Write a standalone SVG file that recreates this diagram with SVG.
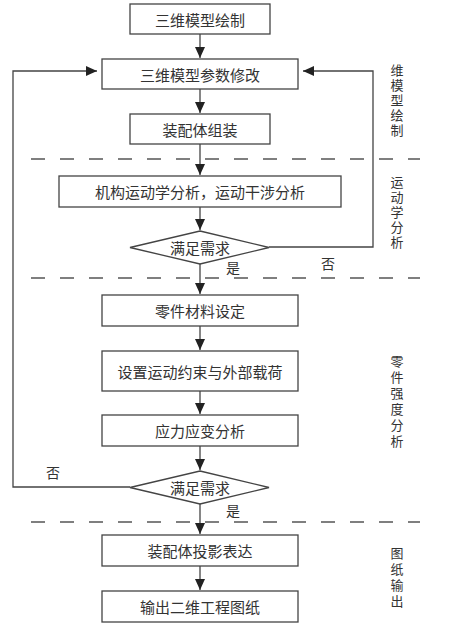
<svg xmlns="http://www.w3.org/2000/svg" width="450" height="631" viewBox="0 0 450 631">
<style>
.box{fill:#fff;stroke:#444;stroke-width:1.3}
.t{font-family:"Noto Sans CJK SC","Liberation Serif",serif;font-size:15px;fill:#333;text-anchor:middle;dominant-baseline:central}
.s{font-family:"Noto Sans CJK SC","Liberation Serif",serif;font-size:14px;fill:#333;text-anchor:middle;dominant-baseline:central}
.v{font-family:"Noto Sans CJK SC","Liberation Serif",serif;font-size:13px;fill:#333;text-anchor:middle;dominant-baseline:central}
.c{fill:none;stroke:#444;stroke-width:1.3}
.d{fill:none;stroke:#555;stroke-width:1.5;stroke-dasharray:14 15}
</style>
<defs>
<marker id="ah" markerUnits="userSpaceOnUse" markerWidth="12" markerHeight="12" viewBox="0 0 12 12" refX="11" refY="6" orient="auto">
<path d="M0,1 L11,6 L0,11 z" fill="#222"/>
</marker>
</defs>
<rect width="450" height="631" fill="#fff"/>
<g id="dividers">
<line class="d" x1="31" y1="159" x2="420" y2="159"/>
<line class="d" x1="31" y1="278" x2="420" y2="278"/>
<line class="d" x1="31" y1="522" x2="420" y2="522"/>
</g>
<g id="connectors">
<line class="c" x1="200" y1="34" x2="200" y2="58" marker-end="url(#ah)"/>
<line class="c" x1="200" y1="89" x2="200" y2="113" marker-end="url(#ah)"/>
<line class="c" x1="200" y1="144" x2="200" y2="175" marker-end="url(#ah)"/>
<line class="c" x1="200" y1="207" x2="200" y2="230" marker-end="url(#ah)"/>
<line class="c" x1="200" y1="264" x2="200" y2="294" marker-end="url(#ah)"/>
<polyline class="c" points="269,247 373,247 373,71 303,71" marker-end="url(#ah)"/>
<line class="c" x1="200" y1="326" x2="200" y2="350" marker-end="url(#ah)"/>
<line class="c" x1="200" y1="391" x2="200" y2="414" marker-end="url(#ah)"/>
<line class="c" x1="200" y1="446" x2="200" y2="470" marker-end="url(#ah)"/>
<polyline class="c" points="130,487 13,487 13,71 97,71" marker-end="url(#ah)"/>
<line class="c" x1="200" y1="504" x2="200" y2="534" marker-end="url(#ah)"/>
<line class="c" x1="200" y1="566" x2="200" y2="590" marker-end="url(#ah)"/>
<text class="s" x="328" y="263">否</text>
<text class="s" x="233" y="267">是</text>
<text class="s" x="53" y="472">否</text>
<text class="s" x="233" y="510">是</text>
</g>
<g id="n1"><rect class="box" x="130" y="4" width="140" height="30"/><text class="t" x="200" y="19">三维模型绘制</text></g>
<g id="n2"><rect class="box" x="102" y="59" width="196" height="30"/><text class="t" x="200" y="74">三维模型参数修改</text></g>
<g id="n3"><rect class="box" x="130" y="114" width="140" height="30"/><text class="t" x="200" y="129">装配体组装</text></g>
<g id="n4"><rect class="box" x="59" y="176" width="282" height="31"/><text class="t" x="200" y="191.5">机构运动学分析，运动干涉分析</text></g>
<g id="n5"><polygon class="box" points="200,231 269,247.5 200,264 130,247.5"/><text class="t" x="200" y="247.5">满足需求</text></g>
<g id="n6"><rect class="box" x="102" y="295" width="196" height="31"/><text class="t" x="200" y="310.5">零件材料设定</text></g>
<g id="n7"><rect class="box" x="102" y="351" width="196" height="40"/><text class="t" x="200" y="371">设置运动约束与外部载荷</text></g>
<g id="n8"><rect class="box" x="102" y="415" width="196" height="31"/><text class="t" x="200" y="430.5">应力应变分析</text></g>
<g id="n9"><polygon class="box" points="200,471 269,487.5 200,504 130,487.5"/><text class="t" x="200" y="487.5">满足需求</text></g>
<g id="n10"><rect class="box" x="102" y="535" width="196" height="31"/><text class="t" x="200" y="550.5">装配体投影表达</text></g>
<g id="n11"><rect class="box" x="102" y="591" width="196" height="31"/><text class="t" x="200" y="606.5">输出二维工程图纸</text></g>
<g id="labels">
<text class="v" x="397" y="69.5">维</text>
<text class="v" x="397" y="84.5">模</text>
<text class="v" x="397" y="99.5">型</text>
<text class="v" x="397" y="114.5">绘</text>
<text class="v" x="397" y="129.5">制</text>
<text class="v" x="397" y="181.5">运</text>
<text class="v" x="397" y="196.5">动</text>
<text class="v" x="397" y="211.5">学</text>
<text class="v" x="397" y="226.5">分</text>
<text class="v" x="397" y="241.5">析</text>
<text class="v" x="397" y="360">零</text>
<text class="v" x="397" y="376">件</text>
<text class="v" x="397" y="392">强</text>
<text class="v" x="397" y="408">度</text>
<text class="v" x="397" y="424">分</text>
<text class="v" x="397" y="440">析</text>
<text class="v" x="397" y="552">图</text>
<text class="v" x="397" y="568">纸</text>
<text class="v" x="397" y="584">输</text>
<text class="v" x="397" y="600">出</text>
</g>
</svg>
